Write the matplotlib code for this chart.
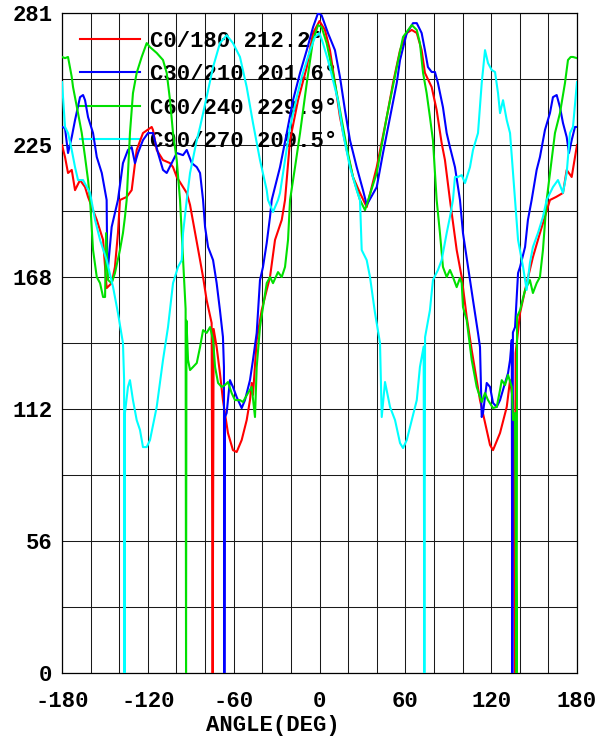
import numpy as np
import matplotlib
matplotlib.use("Agg")
import matplotlib.pyplot as plt

plt.rcParams['font.family'] = ['Liberation Mono', 'DejaVu Sans Mono']
plt.rcParams['font.weight'] = 'bold'
plt.rcParams['axes.unicode_minus'] = False

# C0/180
ang_c0 = [-180, -177.9, -175.8, -173.2, -170.9, -167.4, -163.9, -161.8, -155.7, -151.3,
          -148.8, -145.3, -143.0, -140.9, -139.5, -134.8, -131.3, -127.8, -123.4, -117.3,
          -116.4, -113.8, -109.4, -104.5, -102.4, -99.8, -92.8, -90.5, -83.5, -81.4,
          -78.9, -75.4, -74.7, -74.0, -71.9, -69.6, -67.5, -64.0, -60.5, -57.9,
          -54.4, -50.9, -48.6, -47.4, -46.5, -43.9, -40.4, -36.9, -34.6, -31.1,
          -26.4, -24.1, -20.6, -15.0, -8.9, -4.5, 0, 3.8, 7.3, 10.8,
          14.3, 19.0, 23.4, 28.3, 33.0, 40.0, 47.0, 51.4, 56.3, 61.0,
          64.5, 68.0, 71.4, 73.7, 78.4, 81.9, 85.4, 87.7, 91.2, 95.9,
          99.4, 102.9, 106.4, 112.2, 119.2, 121.3, 126.2, 130.9, 133.2, 135.3,
          136.7, 137.1, 140.2, 144.8, 149.2, 154.1, 161.1, 165.4, 170.2, 172.8,
          176.3, 180]
val_c0 = [224.8, 219.7, 212.9, 214.2, 205.6, 209.9, 206.9, 202.7, 192.9, 184.4,
          163.9, 166.0, 172.9, 187.3, 201.4, 202.7, 205.6, 222.7, 229.9, 232.5,
          231.2, 222.7, 218.4, 217.1, 215.4, 211.2, 204.4, 199.3, 175.8, 168.6,
          158.8, 149.0, 0, 146.5, 138.8, 127.7, 116.2, 102.2, 94.9, 94.1,
          99.2, 107.7, 116.2, 123.5, 118.4, 141.8, 154.5, 163.1, 168.6, 184.4,
          192.9, 201.4, 226.9, 243.9, 258.0, 272.5, 277.6, 273.8, 265.2, 251.2,
          236.7, 222.7, 211.2, 204.4, 198.4, 215.4, 236.7, 251.2, 265.2, 272.5,
          273.8, 272.5, 265.2, 255.5, 249.5, 239.7, 225.6, 218.4, 201.4, 180.1,
          168.6, 151.6, 137.5, 116.2, 97.1, 94.9, 102.2, 113.3, 124.7, 116.0,
          0, 136.2, 153.3, 166.0, 177.1, 187.3, 201.4, 202.7, 204.4, 214.2,
          211.2, 224.8]

# C30/210
ang_c30 = [-180, -177.9, -175.8, -173.2, -170.9, -167.4, -165.3, -163.9, -161.8, -158.3,
           -155.7, -152.2, -148.8, -148.4, -147.8, -145.3, -143.0, -140.9, -137.4, -133.9,
           -131.3, -129.0, -126.9, -123.4, -119.9, -116.4, -112.9, -109.4, -106.8, -103.3,
           -99.8, -95.4, -92.8, -89.3, -85.8, -83.5, -81.4, -80.0, -77.9, -74.4,
           -71.9, -69.6, -67.5, -66.8, -66.5, -66.1, -64.9, -62.6, -60.5, -57.9,
           -54.4, -52.1, -48.6, -46.5, -43.9, -41.6, -39.5, -36.9, -34.6, -33.4,
           -27.6, -22.9, -18.5, -13.6, -8.9, -4.5, -1.0, 1.5, 5.9, 10.8,
           14.3, 17.8, 21.3, 26.0, 30.4, 33.0, 40.0, 44.4, 49.3, 54.0,
           56.3, 61.0, 65.4, 68.0, 71.4, 73.7, 75.8, 78.4, 80.7, 82.8,
           86.3, 88.9, 91.2, 94.7, 98.2, 100.3, 103.8, 107.3, 110.8, 112.2,
           113.4, 114.3, 116.9, 119.2, 121.3, 123.9, 126.2, 129.7, 131.8, 133.2,
           134.4, 134.8, 135.2, 136.7, 138.8, 140.2, 143.7, 145.7, 148.3, 151.8,
           154.1, 157.6, 161.1, 163.2, 165.8, 168.1, 170.2, 172.8, 174.4, 176.3,
           178.6, 180]
val_c30 = [232.5, 232.0, 221.4, 228.2, 235.4, 245.2, 246.1, 243.9, 236.7, 229.9,
           219.7, 212.9, 201.4, 174.6, 172.9, 189.9, 196.0, 201.4, 217.1, 222.7,
           223.9, 217.1, 221.4, 226.9, 229.9, 229.9, 221.4, 214.2, 212.9, 217.1,
           221.4, 220.5, 222.7, 217.1, 215.4, 212.9, 201.4, 189.9, 181.4, 175.8,
           166.0, 154.5, 143.1, 130.3, 0, 109.0, 110.7, 124.7, 121.8, 117.5,
           112.8, 116.2, 124.7, 133.3, 144.8, 167.3, 172.9, 183.1, 194.2, 201.4,
           215.4, 229.9, 243.9, 255.5, 265.2, 275.0, 281.0, 280.0, 272.5, 265.2,
           253.8, 239.7, 226.9, 215.4, 205.6, 199.3, 206.9, 221.4, 236.7, 251.2,
           261.0, 272.5, 276.7, 276.7, 272.5, 265.2, 258.0, 255.9, 255.9, 251.2,
           240.9, 229.9, 223.9, 215.4, 201.4, 187.3, 172.9, 158.8, 144.8, 138.8,
           109.0, 110.7, 123.5, 121.8, 115.0, 113.3, 116.2, 123.5, 127.7, 133.3,
           141.8, 0, 145.0, 147.3, 170.3, 172.9, 181.4, 192.9, 201.4, 214.2,
           219.7, 231.2, 238.4, 245.2, 246.1, 240.9, 234.2, 228.2, 221.4, 226.9,
           232.5, 232.5]

# C60/240
ang_c60 = [-180, -177.9, -175.8, -173.2, -172.3, -168.8, -166.2, -163.9, -161.8, -160.4,
           -158.3, -155.7, -153.4, -151.3, -149.9, -149.2, -147.8, -145.3, -143.0, -139.5,
           -137.4, -136.0, -134.8, -132.5, -130.4, -127.8, -124.3, -120.8, -118.5, -113.8,
           -109.4, -106.8, -104.5, -102.4, -99.8, -97.5, -96.3, -93.6, -93.3, -93.0,
           -91.9, -90.5, -88.4, -85.8, -83.5, -81.4, -78.9, -76.5, -74.4, -73.0,
           -70.9, -68.4, -66.1, -64.0, -61.4, -59.1, -55.6, -53.5, -50.0, -47.4,
           -45.1, -43.9, -41.6, -39.5, -36.9, -34.6, -32.5, -29.0, -26.4, -24.1,
           -22.0, -20.6, -17.1, -13.6, -8.9, -4.5, -1.0, 1.5, 5.0, 9.4,
           14.3, 19.0, 23.4, 28.3, 31.8, 40.0, 47.0, 54.0, 58.4, 64.5,
           68.0, 70.2, 72.4, 74.9, 77.2, 79.3, 81.9, 84.2, 86.3, 88.9,
           91.2, 93.3, 95.9, 98.2, 99.4, 100.3, 102.9, 106.4, 109.9, 113.4,
           115.7, 117.8, 121.3, 123.9, 126.2, 127.4, 129.7, 131.8, 134.4, 135.3,
           136.7, 137.8, 138.1, 140.2, 143.7, 147.1, 149.2, 151.8, 154.1, 156.2,
           158.8, 162.3, 164.6, 168.1, 171.6, 173.7, 175.6, 177.2, 180]
val_c60 = [262.3, 261.8, 262.3, 253.8, 249.5, 238.4, 229.9, 219.7, 209.9, 201.4,
           180.1, 168.6, 166.0, 160.1, 160.1, 187.3, 167.3, 166.0, 170.3, 180.1,
           187.3, 194.2, 201.4, 229.9, 246.9, 255.5, 262.3, 268.2, 266.5, 264.0,
           261.0, 255.5, 243.9, 229.9, 218.4, 201.4, 187.3, 155.0, 0, 150.0,
           133.3, 129.0, 130.3, 132.0, 138.8, 146.0, 144.8, 147.3, 141.8, 130.3,
           123.5, 121.8, 122.6, 123.9, 119.2, 116.2, 116.2, 115.4, 119.2, 121.8,
           109.0, 130.3, 147.3, 155.8, 166.0, 168.6, 166.0, 170.7, 168.6, 172.9,
           184.4, 201.4, 215.4, 229.9, 251.2, 269.5, 275.9, 275.0, 268.2, 255.5,
           239.7, 223.9, 211.2, 201.4, 197.1, 212.9, 236.7, 258.0, 270.8, 275.9,
           273.8, 268.2, 255.5, 246.9, 236.7, 226.9, 201.4, 187.3, 172.9, 168.6,
           171.6, 168.6, 164.3, 168.2, 166.0, 155.8, 150.3, 133.3, 121.8, 115.4,
           119.2, 116.2, 112.8, 113.3, 120.5, 124.7, 122.6, 126.9, 121.8, 107.7,
           110.7, 0, 151.6, 154.5, 163.1, 167.3, 161.8, 166.0, 168.6, 180.1,
           201.4, 218.4, 229.9, 238.4, 251.2, 261.0, 262.3, 262.3, 261.8]

# C90/270
ang_c90 = [-180, -177.9, -175.8, -173.2, -170.9, -168.8, -165.3, -160.4, -156.9, -153.4,
           -148.8, -144.3, -140.9, -137.4, -136.6, -136.3, -136.0, -133.9, -132.5, -130.4,
           -127.8, -125.5, -123.4, -120.8, -118.5, -113.8, -109.4, -105.9, -102.4, -98.9,
           -96.3, -95.4, -92.8, -90.5, -85.8, -83.5, -78.9, -74.4, -69.6, -64.9,
           -60.5, -55.6, -50.9, -46.5, -41.6, -36.9, -36.0, -32.5, -29.0, -27.6,
           -24.1, -20.6, -15.9, -12.4, -6.6, -3.1, 0, 2.4, 5.9, 9.4,
           12.9, 16.4, 21.3, 26.0, 28.3, 29.5, 33.0, 35.3, 38.8, 42.3,
           43.5, 45.8, 49.3, 52.8, 56.3, 58.4, 61.0, 64.5, 68.0, 70.2,
           72.8, 73.3, 73.8, 77.2, 79.3, 82.8, 85.4, 88.9, 91.2, 93.3,
           94.7, 96.8, 99.4, 101.7, 105.2, 107.3, 110.8, 113.4, 115.7, 117.8,
           120.4, 122.7, 124.8, 126.2, 128.3, 130.9, 133.2, 136.7, 138.8, 142.3,
           144.8, 147.1, 149.2, 152.7, 156.2, 158.8, 163.2, 166.7, 170.2, 172.8,
           175.1, 177.2, 180]
val_c90 = [251.6, 232.5, 229.9, 222.7, 215.4, 209.9, 209.9, 204.4, 192.9, 184.4,
           175.8, 164.3, 153.3, 140.5, 125.0, 0, 110.7, 121.8, 124.7, 116.2,
           107.7, 103.5, 96.2, 96.2, 99.2, 113.3, 133.3, 147.3, 166.0, 172.9,
           175.8, 187.3, 201.4, 212.9, 226.9, 232.5, 245.2, 258.0, 268.2, 271.6,
           268.2, 262.3, 249.5, 234.2, 218.4, 205.6, 201.4, 196.3, 201.4, 204.4,
           218.4, 232.5, 245.2, 253.8, 265.2, 270.8, 272.5, 268.2, 261.0, 252.5,
           243.9, 229.9, 215.4, 205.6, 201.4, 180.1, 175.8, 168.6, 153.3, 140.5,
           109.0, 123.9, 113.3, 107.7, 97.9, 95.8, 99.2, 107.7, 116.2, 130.3,
           139.0, 0, 143.0, 154.5, 167.3, 171.6, 175.8, 187.3, 194.2, 201.4,
           211.2, 211.2, 212.0, 208.6, 215.4, 222.7, 229.9, 251.2, 265.2, 259.7,
           256.7, 255.9, 246.9, 238.4, 243.9, 235.4, 229.9, 201.4, 184.4, 172.9,
           163.1, 174.6, 181.4, 187.3, 194.2, 201.4, 206.9, 209.9, 204.4, 212.9,
           229.9, 232.5, 251.6]

names = ['C0/180', 'C30/210', 'C60/240', 'C90/270']
widths = ['212.2', '201.6', '229.9', '209.5']
colors = ['#ff0000', '#0000ff', '#00e000', '#00ffff']
series = [(ang_c0, val_c0), (ang_c30, val_c30), (ang_c60, val_c60), (ang_c90, val_c90)]

ymax = 281
xticks = [-180, -120, -60, 0, 60, 120, 180]
yticks = [0, 56, 112, 168, 225, 281]

fig = plt.figure(figsize=(6.05, 7.37), dpi=100)
ax = fig.add_axes([0.1025, 0.0868, 0.8512, 0.8955])

for (a, v), c, n, w in zip(series, colors, names, widths):
    ax.plot(a, v, color=c, lw=1.5, label=f'{n} {w}°', zorder=3)

ax.set_xlim(-180, 180)
ax.set_ylim(0, ymax)

# grid: every 20 deg, every tenth of full scale
for gx in np.arange(-180, 181, 20):
    ax.axvline(gx, color='#1a1a1a', lw=0.75, zorder=1)
for gy in np.linspace(0, ymax, 11):
    ax.axhline(gy, color='#1a1a1a', lw=0.75, zorder=1)

ax.set_xticks(xticks)
ax.set_yticks(np.linspace(0, ymax, 6))
ax.set_yticklabels([str(t) for t in yticks])
ax.tick_params(length=0, labelsize=16, pad=7)
ax.tick_params(axis='x', pad=13)
for lab in ax.get_xticklabels() + ax.get_yticklabels():
    lab.set_fontweight('bold')
for s in ax.spines.values():
    s.set_linewidth(0.9)

ax.set_xlabel('ANGLE(DEG)', fontsize=16, fontweight='bold')
ax.xaxis.label.set_va('center')
ax.xaxis.set_label_coords(0.41, -0.079)

leg = ax.legend(loc='upper left', bbox_to_anchor=(0.0, 1.0), frameon=False,
                fontsize=16, handlelength=2.7, handletextpad=0.45,
                labelspacing=0.56, borderaxespad=0.2, borderpad=0.6)
leg.set_zorder(2)
for t in leg.get_texts():
    t.set_fontweight('bold')

fig.savefig('out.png', dpi=100)
